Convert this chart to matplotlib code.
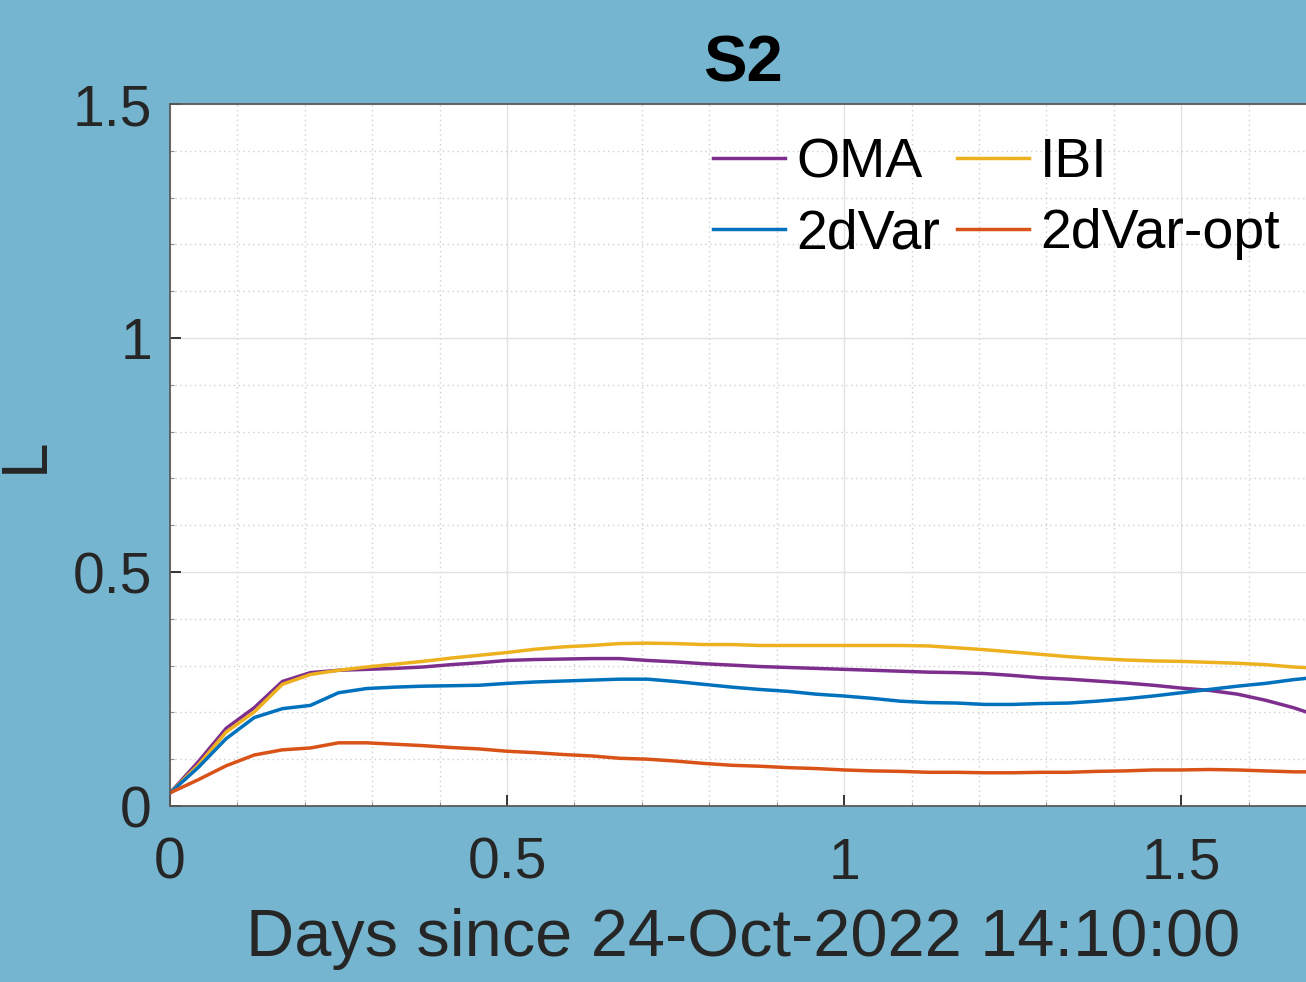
"""
Recreation of the S2 panel: L versus days since 24-Oct-2022 14:10:00
for the OMA, IBI, 2dVar and 2dVar-opt runs (hourly values).
"""

import numpy as np
import matplotlib.pyplot as plt
from matplotlib.ticker import MultipleLocator

plt.rcParams["font.family"] = ["Liberation Sans", "DejaVu Sans"]

# ── Data (hourly samples) ────────────────────────────────────────────────────
hours = np.arange(42)
oma = [0.028, 0.094, 0.166, 0.210, 0.266, 0.285, 0.290, 0.292, 0.294, 0.297,
       0.302, 0.306, 0.311, 0.313, 0.314, 0.315, 0.315, 0.311, 0.308, 0.304,
       0.301, 0.298, 0.296, 0.294, 0.292, 0.290, 0.288, 0.286, 0.285, 0.283,
       0.279, 0.274, 0.271, 0.267, 0.263, 0.258, 0.252, 0.247, 0.239, 0.226,
       0.210, 0.190]
ibi = [0.028, 0.087, 0.158, 0.201, 0.260, 0.281, 0.290, 0.297, 0.303, 0.309,
       0.316, 0.322, 0.328, 0.335, 0.340, 0.343, 0.347, 0.348, 0.347, 0.345,
       0.345, 0.343, 0.343, 0.343, 0.343, 0.343, 0.343, 0.342, 0.338, 0.334,
       0.329, 0.324, 0.319, 0.315, 0.312, 0.310, 0.309, 0.307, 0.305, 0.302,
       0.297, 0.294]
var2d = [0.028, 0.082, 0.144, 0.189, 0.208, 0.215, 0.242, 0.251, 0.254, 0.256,
         0.257, 0.258, 0.262, 0.265, 0.267, 0.269, 0.271, 0.271, 0.266, 0.260,
         0.254, 0.249, 0.245, 0.239, 0.235, 0.230, 0.224, 0.221, 0.220, 0.217,
         0.217, 0.219, 0.220, 0.224, 0.229, 0.235, 0.242, 0.249, 0.256, 0.262,
         0.270, 0.276]
var2d_opt = [0.028, 0.056, 0.086, 0.109, 0.120, 0.124, 0.135, 0.135, 0.132,
             0.129, 0.125, 0.122, 0.117, 0.114, 0.110, 0.107, 0.102, 0.100,
             0.096, 0.091, 0.087, 0.085, 0.082, 0.080, 0.077, 0.075, 0.074,
             0.072, 0.072, 0.071, 0.071, 0.072, 0.072, 0.074, 0.075, 0.077,
             0.077, 0.078, 0.077, 0.075, 0.073, 0.073]

days = hours / 24.0

# ── Style ─────────────────────────────────────────────────────────────────────
BG = "#75B5CF"
TXT = "#262626"
C_OMA = "#7E2F8E"
C_IBI = "#EDB120"
C_2DV = "#0072BD"
C_OPT = "#D95319"
LW = 2.5

W, H = 1306, 982
fig = plt.figure(figsize=(W / 100, H / 100), dpi=100, facecolor=BG)
# axes box in pixels: left 170, top 104, bottom 806, right edge just past the image
ax = fig.add_axes([170 / W, (H - 806) / H, 1146 / W, 702 / H])
ax.set_facecolor("white")

(l_oma,) = ax.plot(days, oma, color=C_OMA, lw=LW, label="OMA")
(l_ibi,) = ax.plot(days, ibi, color=C_IBI, lw=LW, label="IBI")
(l_2dv,) = ax.plot(days, var2d, color=C_2DV, lw=LW, label="2dVar")
(l_opt,) = ax.plot(days, var2d_opt, color=C_OPT, lw=LW, label="2dVar-opt")

ax.set_xlim(0, 1.7)
ax.set_ylim(0, 1.5)
ax.xaxis.set_major_locator(MultipleLocator(0.5))
ax.yaxis.set_major_locator(MultipleLocator(0.5))
ax.xaxis.set_minor_locator(MultipleLocator(0.1))
ax.yaxis.set_minor_locator(MultipleLocator(0.1))
ax.xaxis.set_major_formatter(plt.FuncFormatter(lambda v, p: f"{v:g}"))
ax.yaxis.set_major_formatter(plt.FuncFormatter(lambda v, p: f"{v:g}"))

ax.grid(which="major", color="#e2e2e2", lw=1.0, ls="-")
ax.grid(which="minor", color="#cfcfcf", lw=1.0, ls=(0, (1, 2.5)))
ax.set_axisbelow(True)

for s in ax.spines.values():
    s.set_color("#5a5a5a")
    s.set_linewidth(1.3)

ax.tick_params(which="major", direction="in", length=8, width=1.3,
               color="#262626", labelsize=41, labelcolor=TXT)
ax.tick_params(which="minor", direction="in", length=3, width=0.8,
               color="#8a8a8a")
ax.tick_params(axis="x", which="major", pad=22)
ax.tick_params(axis="y", which="major", pad=13)

ax.set_title("S2", fontsize=47, fontweight="bold", color="black", pad=16)
ax.set_xlabel("Days since 24-Oct-2022 14:10:00", fontsize=48, color=TXT)
ax.xaxis.set_label_coords(0.5004, -0.146)
ax.set_ylabel("L", fontsize=46, color=TXT)
ax.yaxis.set_label_coords(-0.0995, 0.5)

leg = ax.legend(
    handles=[l_oma, l_2dv, l_ibi, l_opt],
    ncol=2,
    frameon=False,
    fontsize=40,
    loc="upper left",
    bbox_to_anchor=(713 / W, (H - 137) / H),
    bbox_transform=fig.transFigure,
    borderpad=0,
    borderaxespad=0,
    handlelength=1.3,
    handletextpad=0.2,
    columnspacing=0.3,
    labelspacing=0.35,
)
for t in leg.get_texts():
    t.set_color("black")

fig.savefig("out.png", dpi=100, facecolor=BG)
